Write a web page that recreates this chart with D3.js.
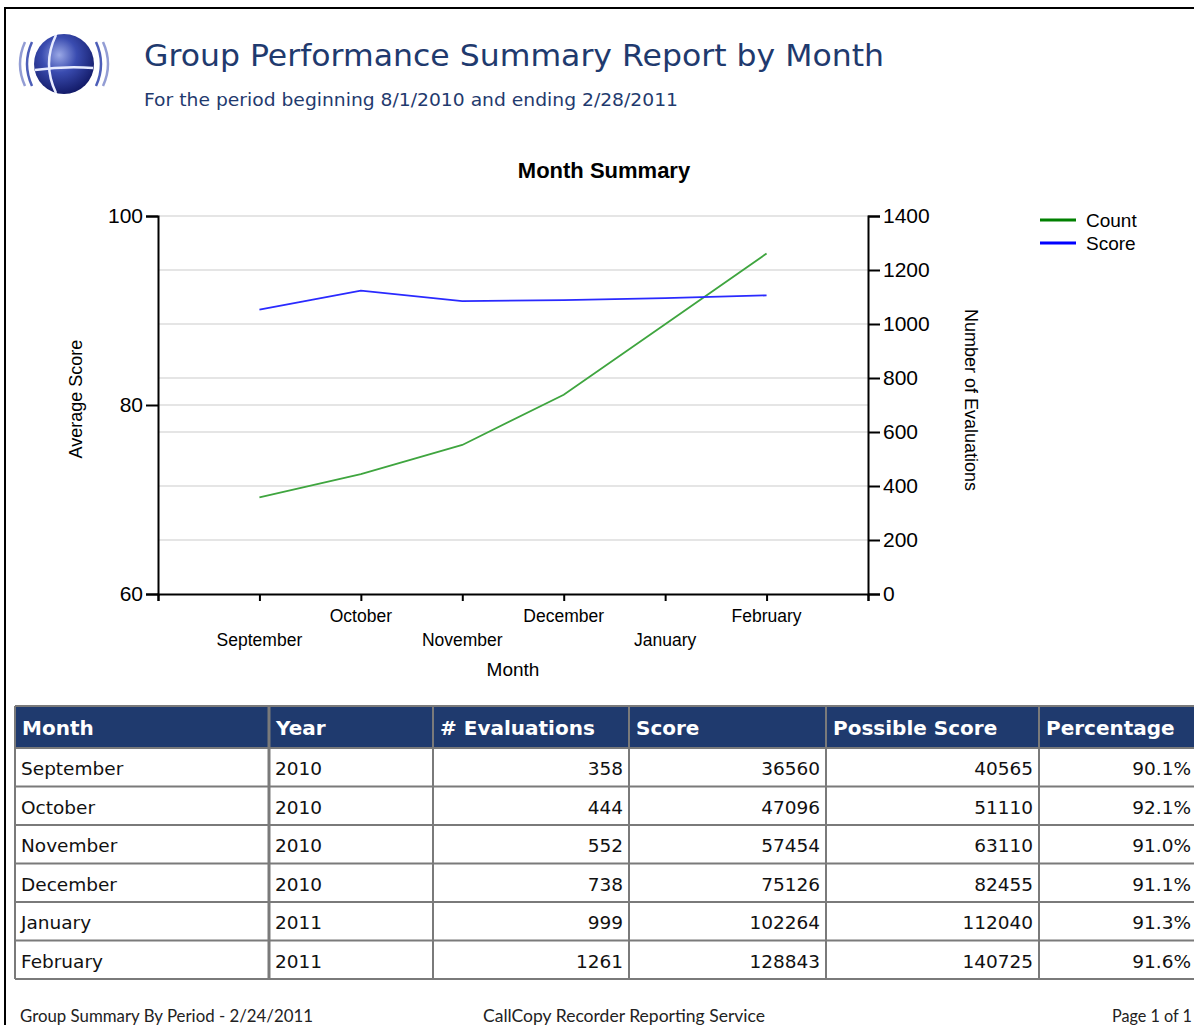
<!DOCTYPE html>
<html>
<head>
<meta charset="utf-8">
<script src="https://cdn.jsdelivr.net/npm/d3@7"></script>
<style>
  body { margin: 0; background: #fff; }
  svg { display: block; }
</style>
</head>
<body>
<div id="report"></div>
<script>
// data
const months = ["September", "October", "November", "December", "January", "February"];
const years = ["2010", "2010", "2010", "2010", "2011", "2011"];
const counts = [358, 444, 552, 738, 999, 1261];
const scores = [36560, 47096, 57454, 75126, 102264, 128843];
const possibleScores = [40565, 51110, 63110, 82455, 112040, 140725];
const percentages = [90.1, 92.1, 91.0, 91.1, 91.3, 91.6];
const columns = ["Month", "Year", "# Evaluations", "Score", "Possible Score", "Percentage"];
const leftTicks = [60, 80, 100];
const rightTicks = [0, 200, 400, 600, 800, 1000, 1200, 1400];

const W = 1194, H = 1025;
const navy = "#1f3a6e";

let svg = d3.select("#report").append("svg")
    .attr("width", W)
    .attr("height", H);

// page frame
svg.append("line").attr("x1", 5).attr("x2", 5).attr("y1", 8).attr("y2", H)
    .attr("stroke", "#000").attr("stroke-width", 2);
svg.append("line").attr("x1", 4).attr("x2", W).attr("y1", 8).attr("y2", 8)
    .attr("stroke", "#000").attr("stroke-width", 2);

// logo
let defs = svg.append("defs");
let grad = defs.append("radialGradient").attr("id", "globe")
    .attr("cx", "42%").attr("cy", "35%").attr("r", "65%");
grad.append("stop").attr("offset", "0%").attr("stop-color", "#9aa8e6");
grad.append("stop").attr("offset", "45%").attr("stop-color", "#3a4cb0");
grad.append("stop").attr("offset", "100%").attr("stop-color", "#141c6a");

let logo = svg.append("g").attr("transform", "translate(64,64)");
logo.append("circle").attr("r", 30).attr("fill", "url(#globe)");
logo.append("path").attr("d", "M-8,-29 Q-22,0 -8,29").attr("fill", "none")
    .attr("stroke", "#e8ecff").attr("stroke-width", 2.5);
logo.append("path").attr("d", "M-29,6 Q0,2 29,4").attr("fill", "none")
    .attr("stroke", "#e8ecff").attr("stroke-width", 2.5);
[[-38, 0.9], [-45, 0.55]].forEach(function (a) {
    logo.append("path")
        .attr("d", "M" + (a[0] + 6) + ",-22 Q" + (a[0] - 4) + ",0 " + (a[0] + 6) + ",22")
        .attr("fill", "none").attr("stroke", "#3a4cb0").attr("stroke-width", 2.5).attr("opacity", a[1]);
    logo.append("path")
        .attr("d", "M" + (-a[0] - 6) + ",-22 Q" + (-a[0] + 4) + ",0 " + (-a[0] - 6) + ",22")
        .attr("fill", "none").attr("stroke", "#3a4cb0").attr("stroke-width", 2.5).attr("opacity", a[1]);
});

// titles
svg.append("text").attr("x", 144).attr("y", 66)
    .style("font-family", "'DejaVu Sans', sans-serif").style("font-size", "31px")
    .attr("fill", navy).attr("textLength", 740).attr("lengthAdjust", "spacingAndGlyphs")
    .text("Group Performance Summary Report by Month");
svg.append("text").attr("x", 144).attr("y", 106)
    .style("font-family", "'DejaVu Sans', sans-serif").style("font-size", "18px")
    .attr("fill", navy).attr("textLength", 534).attr("lengthAdjust", "spacingAndGlyphs")
    .text("For the period beginning 8/1/2010 and ending 2/28/2011");

// chart
let margin = {top: 216, left: 158},
    width = 868 - 158,
    height = 594 - 216;

let chart = svg.append("g")
    .attr("transform", "translate(" + margin.left + "," + margin.top + ")");

let x = d3.scaleLinear().domain([0, months.length + 1]).range([0, width]);
let yL = d3.scaleLinear().domain([60, 100]).range([height, 0]);
let yR = d3.scaleLinear().domain([0, 1400]).range([height, 0]);

let axisFont = "'Liberation Sans', Arial, sans-serif";

svg.append("text").attr("x", 604).attr("y", 178).attr("text-anchor", "middle")
    .style("font-family", axisFont).style("font-size", "22px")
    .style("font-weight", "bold").attr("fill", "#000").text("Month Summary");

// gridlines
chart.selectAll(".gridR").data(rightTicks.slice(1, -1)).enter().append("line")
    .attr("x1", 0).attr("x2", width)
    .attr("y1", d => yR(d)).attr("y2", d => yR(d))
    .attr("stroke", "#dcdcdc").attr("stroke-width", 1.5);
chart.selectAll(".gridL").data([80]).enter().append("line")
    .attr("x1", 0).attr("x2", width)
    .attr("y1", d => yL(d)).attr("y2", d => yL(d))
    .attr("stroke", "#dcdcdc").attr("stroke-width", 1.5);
chart.append("line").attr("x1", 0).attr("x2", width).attr("y1", 0).attr("y2", 0)
    .attr("stroke", "#dcdcdc").attr("stroke-width", 1.5);

// axes
let gL = chart.append("g")
    .call(d3.axisLeft(yL).tickValues(leftTicks).tickSize(12).tickPadding(3));
let gR = chart.append("g").attr("transform", "translate(" + width + ",0)")
    .call(d3.axisRight(yR).tickValues(rightTicks).tickFormat(d3.format("d")).tickSize(12).tickPadding(3));
let gX = chart.append("g").attr("transform", "translate(0," + height + ")")
    .call(d3.axisBottom(x).tickValues(d3.range(0, months.length + 2)).tickSize(7).tickFormat(""));

[gL, gR, gX].forEach(function (g) {
    g.select(".domain").attr("stroke", "#000").attr("stroke-width", 2);
    g.selectAll(".tick line").attr("stroke", "#000").attr("stroke-width", 2);
    g.selectAll(".tick text").style("font-family", axisFont).style("font-size", "21px")
        .attr("fill", "#000");
});

// category labels, staggered in two rows
chart.selectAll(".cat").data(months).enter().append("text")
    .attr("x", (d, i) => x(i + 1))
    .attr("y", (d, i) => height + (i % 2 === 0 ? 52 : 28))
    .attr("text-anchor", "middle")
    .style("font-family", axisFont).style("font-size", "17.5px")
    .attr("fill", "#000").text(d => d);

chart.append("text").attr("x", width / 2).attr("y", height + 82)
    .attr("text-anchor", "middle").style("font-family", axisFont).style("font-size", "19px")
    .text("Month");
chart.append("text").attr("transform", "translate(-76," + (height / 2 - 6) + ") rotate(-90)")
    .attr("text-anchor", "middle").style("font-family", axisFont).style("font-size", "18px")
    .text("Average Score");
chart.append("text").attr("transform", "translate(" + (width + 97) + "," + (height / 2 - 5) + ") rotate(90)")
    .attr("text-anchor", "middle").style("font-family", axisFont).style("font-size", "18px")
    .text("Number of Evaluations");

// lines
let countLine = d3.line().x((d, i) => x(i + 1)).y(d => yR(d));
let scoreLine = d3.line().x((d, i) => x(i + 1)).y(d => yL(d));
chart.append("path").datum(counts).attr("d", countLine)
    .attr("fill", "none").attr("stroke", "#3fa53f").attr("stroke-width", 1.8);
chart.append("path").datum(percentages).attr("d", scoreLine)
    .attr("fill", "none").attr("stroke", "#2a2aff").attr("stroke-width", 1.8);

// legend
let legend = svg.append("g").attr("transform", "translate(1040,220)");
let legendItems = [["Count", "#008000"], ["Score", "#0000ff"]];
legend.selectAll("line").data(legendItems).enter().append("line")
    .attr("x1", 0).attr("x2", 36)
    .attr("y1", (d, i) => i * 23).attr("y2", (d, i) => i * 23)
    .attr("stroke", d => d[1]).attr("stroke-width", 3);
legend.selectAll("text").data(legendItems).enter().append("text")
    .attr("x", 46).attr("y", (d, i) => i * 23 + 7)
    .style("font-family", axisFont).style("font-size", "19px")
    .text(d => d[0]);

// table
let colEdges = [15, 269, 433, 629, 826, 1039, 1197];
let rowTop = 706, headH = 42, rowH = 38.5;
let tableFont = "'DejaVu Sans', sans-serif";
let rows = months.map((m, i) => [m, years[i], counts[i], scores[i], possibleScores[i], percentages[i].toFixed(1) + "%"]);
let alignLeft = [true, true, false, false, false, false];

let table = svg.append("g");
table.append("rect").attr("x", colEdges[0]).attr("y", rowTop)
    .attr("width", colEdges[6] - colEdges[0]).attr("height", headH).attr("fill", "#1f3a6e");

table.selectAll(".hd").data(columns).enter().append("text")
    .attr("x", (d, i) => colEdges[i] + 7).attr("y", rowTop + 29)
    .style("font-family", tableFont).style("font-size", "20px").style("font-weight", "bold")
    .attr("fill", "#fff").text(d => d);

let rowG = table.selectAll(".row").data(rows).enter().append("g")
    .attr("transform", (d, i) => "translate(0," + (rowTop + headH + i * rowH) + ")");
rowG.selectAll("text").data(d => d).enter().append("text")
    .attr("x", (d, i) => alignLeft[i] ? colEdges[i] + 6 : colEdges[i + 1] - 6)
    .attr("y", 27)
    .attr("text-anchor", (d, i) => alignLeft[i] ? "start" : "end")
    .style("font-family", tableFont).style("font-size", "18.5px")
    .attr("fill", "#111").text(d => d);

// table borders
let tableBottom = rowTop + headH + rows.length * rowH;
let hLines = [rowTop].concat(d3.range(rows.length + 1).map(i => rowTop + headH + i * rowH));
table.selectAll(".hl").data(hLines).enter().append("line")
    .attr("x1", colEdges[0]).attr("x2", colEdges[6])
    .attr("y1", d => d).attr("y2", d => d)
    .attr("stroke", "#7a7a7a").attr("stroke-width", 2);
table.selectAll(".vl").data(colEdges).enter().append("line")
    .attr("x1", d => d).attr("x2", d => d)
    .attr("y1", rowTop).attr("y2", tableBottom)
    .attr("stroke", "#7a7a7a").attr("stroke-width", (d, i) => i === 1 ? 3 : 2);

// footer
let footFont = "'Lato', 'Open Sans', sans-serif";
[["Group Summary By Period - 2/24/2011", 20, 293], ["CallCopy Recorder Reporting Service", 483, 282], ["Page 1 of 1", 1112, 80]]
    .forEach(function (f) {
        svg.append("text").attr("x", f[1]).attr("y", 1022)
            .style("font-family", footFont).style("font-size", "16.5px")
            .attr("textLength", f[2]).attr("lengthAdjust", "spacingAndGlyphs")
            .attr("fill", "#222").text(f[0]);
    });
</script>
</body>
</html>
